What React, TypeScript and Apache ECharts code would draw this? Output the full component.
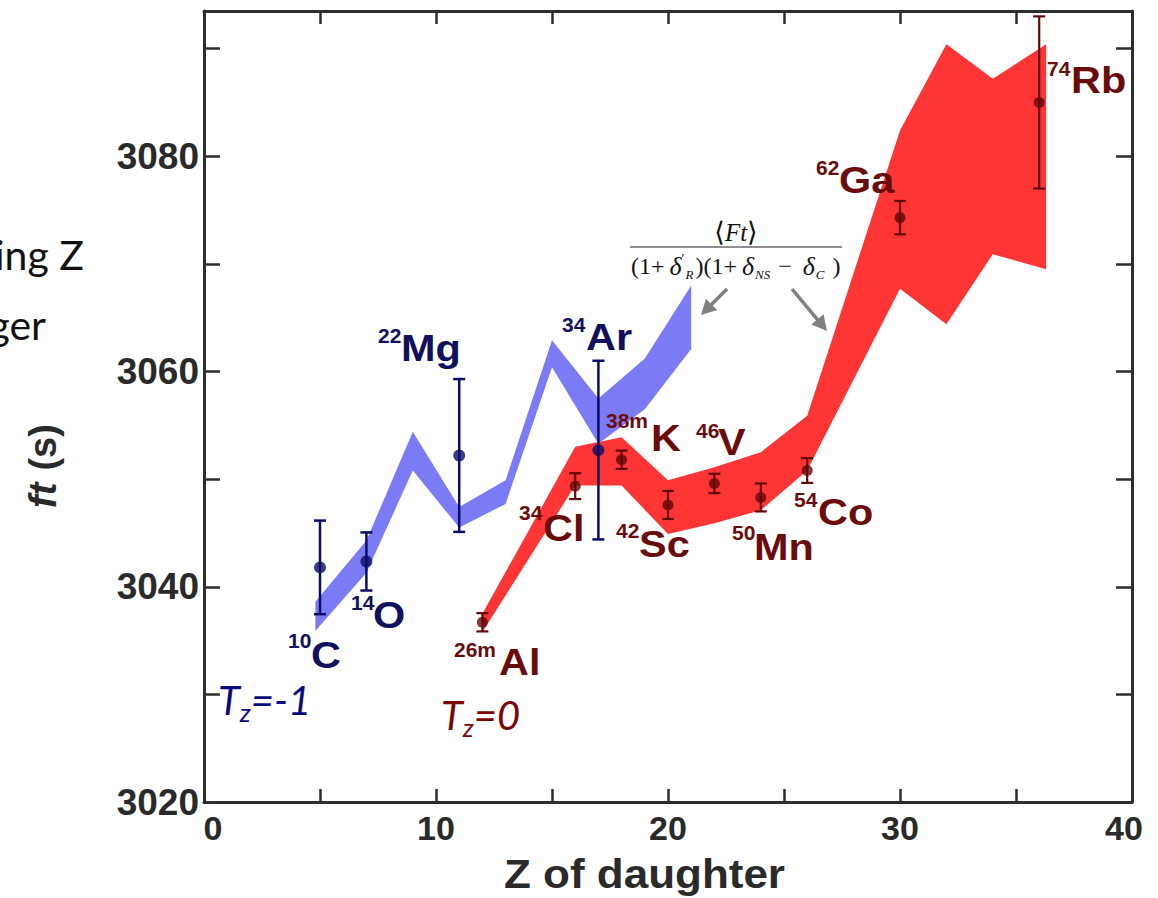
import React, { useEffect, useRef } from 'react';
import * as echarts from 'echarts';

// ---------- data ----------
// T_z = -1 measured ft values
const tzm1Z = [5, 7, 11, 17];
const tzm1Ft = [3041.8, 3042.35, 3052.2, 3052.7];
const tzm1Err = [4.35, 2.7, 7.1, 8.3];

// T_z = 0 measured ft values
const tz0Z = [12, 16, 18, 20, 22, 24, 26, 30, 36];
const tz0Ft = [3036.7, 3049.35, 3051.8, 3047.6, 3049.6, 3048.3, 3050.8, 3074.3, 3085.0];
const tz0Err = [0.85, 1.2, 0.85, 1.3, 0.9, 1.3, 1.15, 1.55, 8.0];

// theory bands  <Ft>/((1+dR')(1+dNS-dC))
const bandBlueZ = [4.8, 7, 9, 11, 13, 15, 17, 19, 21];
const bandBlueUpper = [3038.6, 3044.3, 3054.4, 3047.4, 3049.9, 3062.9, 3057.5, 3061.2, 3068.0];
const bandBlueLower = [3035.9, 3041.3, 3050.8, 3045.5, 3047.7, 3060.4, 3053.3, 3056.5, 3062.1];

const bandRedZ = [12, 16, 18, 20, 22, 24, 26, 30, 32, 34, 36.3];
const bandRedUpper = [3037.5, 3053.0, 3053.9, 3049.9, 3051.1, 3052.5, 3055.9, 3082.4, 3090.4, 3087.2, 3090.4];
const bandRedLower = [3035.8, 3049.4, 3049.4, 3044.9, 3045.9, 3047.1, 3050.8, 3067.7, 3064.4, 3070.9, 3069.5];

// axes
const xTickLabels = [0, 10, 20, 30, 40];
const yTickLabels = [3020, 3040, 3060, 3080];

// nuclide labels
const nuclideMass = ['10', '14', '22', '34', '26m', '34', '38m', '42', '46', '50', '54', '62', '74'];
const nuclideSym = ['C', 'O', 'Mg', 'Ar', 'Al', 'Cl', 'K', 'Sc', 'V', 'Mn', 'Co', 'Ga', 'Rb'];
const nuclideGroup = ['b', 'b', 'b', 'b', 'r', 'r', 'r', 'r', 'r', 'r', 'r', 'r', 'r'];
// layout (pixels): [supLeft, supCenterY, symLeft, symCenterY]
const labelLayout = [
  [288, 641, 311, 655],
  [351, 603, 373, 615],
  [378, 336, 401, 348],
  [562, 325, 586, 337],
  [454, 650, 499, 662],
  [519, 513, 543, 528],
  [606, 421, 651, 438],
  [616, 531, 639, 544],
  [696, 431, 718, 442],
  [732, 533, 754, 547],
  [794, 500, 818, 512],
  [816, 168, 839, 180],
  [1047, 69, 1071, 80],
];

const SANS = "'Liberation Sans', Arial, Helvetica, sans-serif";
const SERIF = "'Liberation Serif', 'DejaVu Serif', 'Times New Roman', serif";
const HUMAN = "Lato, 'Open Sans', sans-serif";
const AXIS = '#2e2e2e';
const BLUE_BAND = '#7b7bf5';
const RED_BAND = '#fe3535';
const BLUE_DARK = '#0c0c66';
const RED_DARK = '#620808';
const BLUE_TXT = '#10105e';
const RED_TXT = '#6a0c0c';

function bandSeries(name: string, zs: number[], up: number[], lo: number[], color: string) {
  return {
    type: 'custom',
    name,
    xAxisIndex: 0,
    yAxisIndex: 0,
    z: 1,
    data: [[zs[0], up[0]]],
    renderItem: (_p: any, api: any) => {
      const pts: number[][] = [];
      for (let i = 0; i < zs.length; i++) pts.push(api.coord([zs[i], up[i]]));
      for (let i = zs.length - 1; i >= 0; i--) pts.push(api.coord([zs[i], lo[i]]));
      return { type: 'polygon', shape: { points: pts }, style: { fill: color, stroke: null } };
    },
  };
}

function errSeries(name: string, zs: number[], v: number[], e: number[], color: string, lw: number) {
  return {
    type: 'custom',
    name,
    z: 3,
    data: zs.map((z, i) => [z, v[i] - e[i], v[i] + e[i]]),
    encode: { x: 0, y: [1, 2] },
    renderItem: (_p: any, api: any) => {
      const x = api.value(0);
      const a = api.coord([x, api.value(1)]);
      const b = api.coord([x, api.value(2)]);
      const w = 6;
      const st = { stroke: color, lineWidth: lw };
      return {
        type: 'group',
        children: [
          { type: 'line', shape: { x1: a[0], y1: a[1], x2: b[0], y2: b[1] }, style: st },
          { type: 'line', shape: { x1: a[0] - w, y1: a[1], x2: a[0] + w, y2: a[1] }, style: st },
          { type: 'line', shape: { x1: b[0] - w, y1: b[1], x2: b[0] + w, y2: b[1] }, style: st },
        ],
      };
    },
  };
}

function arrow(x1: number, y1: number, x2: number, y2: number, color: string) {
  const dx = x2 - x1, dy = y2 - y1;
  const L = Math.sqrt(dx * dx + dy * dy);
  const ux = dx / L, uy = dy / L;
  const hl = 15, hw = 8;
  const bx = x2 - ux * hl, by = y2 - uy * hl;
  return [
    { type: 'line', z: 20, shape: { x1, y1, x2: bx + ux * 2, y2: by + uy * 2 }, style: { stroke: color, lineWidth: 3.5 } },
    {
      type: 'polygon', z: 20,
      shape: { points: [[x2, y2], [bx - uy * hw, by + ux * hw], [bx + uy * hw, by - ux * hw]] },
      style: { fill: color },
    },
  ];
}

function buildOption() {
  const graphics: any[] = [];

  // left slide-text fragments
  graphics.push({ type: 'text', z: 20, x: 84, y: 254, style: { text: 'ing Z', font: `41px ${HUMAN}`, fill: '#111', align: 'right', verticalAlign: 'middle' } });
  graphics.push({ type: 'text', z: 20, x: 46, y: 324, style: { text: 'ger', font: `41px ${HUMAN}`, fill: '#111', align: 'right', verticalAlign: 'middle' } });

  // nuclide labels
  nuclideSym.forEach((s, i) => {
    const [sx, sy, ex, ey] = labelLayout[i];
    const c = nuclideGroup[i] === 'b' ? BLUE_TXT : RED_TXT;
    graphics.push({ type: 'text', z: 20, x: sx, y: sy, scaleX: 1.05, style: { text: nuclideMass[i], font: `bold 20px ${SANS}`, fill: c, align: 'left', verticalAlign: 'middle' } });
    graphics.push({ type: 'text', z: 20, x: ex, y: ey, scaleX: 1.12, style: { text: s, font: `bold 37px ${SANS}`, fill: c, align: 'left', verticalAlign: 'middle' } });
  });

  // T_z annotations (one rich text each)
  const tz = (x: number, y: number, rest: string, color: string) => ({
    type: 'text', z: 20, x, y,
    style: {
      text: `{t|T}{z|z}{r|${rest}}`, align: 'left', verticalAlign: 'middle',
      rich: {
        t: { font: `italic 40px ${HUMAN}`, fill: color, lineHeight: 50, verticalAlign: 'middle' },
        z: { font: `italic 26px ${HUMAN}`, fill: color, lineHeight: 50, verticalAlign: 'bottom' },
        r: { font: `italic 40px ${HUMAN}`, fill: color, lineHeight: 50, verticalAlign: 'middle' },
      },
    },
  });
  graphics.push(tz(218, 700, '=-1', '#0a0a80'));
  graphics.push(tz(441, 715, '=0', '#7a0606'));

  // formula box
  graphics.push({ type: 'rect', z: 15, shape: { x: 622, y: 199, width: 221, height: 84 }, style: { fill: '#ffffff' } });
  graphics.push({
    type: 'text', z: 20, x: 736, y: 232,
    style: {
      text: '{b|⟨}{i|Ft}{b|⟩}', align: 'center', verticalAlign: 'middle',
      rich: {
        b: { font: `27px ${SERIF}`, fill: '#111' },
        i: { font: `italic 25px ${SERIF}`, fill: '#111' },
      },
    },
  });
  graphics.push({ type: 'line', z: 20, shape: { x1: 630, y1: 247, x2: 842, y2: 247 }, style: { stroke: '#222', lineWidth: 1.2 } });
  graphics.push({
    type: 'text', z: 20, x: 631, y: 266,
    style: {
      text: '{n|(1+}{i|δ}{p|′}{s|R}{n|)(1+}{i|δ}{s|NS}{n| − }{i|δ}{s|C}{n| )}',
      align: 'left', verticalAlign: 'middle',
      rich: {
        n: { font: `24px ${SERIF}`, fill: '#111', lineHeight: 30, verticalAlign: 'middle' },
        i: { font: `italic 26px ${SERIF}`, fill: '#111', lineHeight: 30, verticalAlign: 'middle', padding: [0, 0, 0, 5] },
        p: { font: `13px ${SERIF}`, fill: '#111', lineHeight: 30, verticalAlign: 'top' },
        s: { font: `italic 13px ${SERIF}`, fill: '#111', lineHeight: 30, verticalAlign: 'bottom', padding: [0, 2, 0, 1] },
      },
    },
  });

  // arrows
  graphics.push(...arrow(727, 289, 701, 315, '#808080'));
  graphics.push(...arrow(792, 289, 827, 331, '#808080'));

  // axis titles
  graphics.push({
    type: 'text', z: 20, x: 504, y: 874, scaleX: 1.1,
    style: { text: 'Z of daughter', font: `bold 40px ${SANS}`, fill: '#2a2a2a', align: 'left', verticalAlign: 'middle' },
  });
  graphics.push({
    type: 'text', z: 20, x: 43, y: 466, rotation: Math.PI / 2,
    style: {
      text: '{i|ft}{g| }{n|(s)}', align: 'center', verticalAlign: 'middle',
      rich: {
        i: { font: `italic bold 38px ${SANS}`, fill: '#2a2a2a' },
        g: { font: `bold 38px ${SANS}`, fill: '#2a2a2a', width: 12 },
        n: { font: `bold 38px ${SANS}`, fill: '#2a2a2a' },
      },
    },
  });

  const axisCommon = {
    type: 'value',
    splitLine: { show: false },
    axisLine: { show: true, onZero: false, lineStyle: { color: AXIS, width: 3 } },
  };
  const xLab = { fontSize: 34, fontWeight: 'bold', fontFamily: SANS, color: '#2a2a2a' };

  return {
    animation: false,
    backgroundColor: '#ffffff',
    grid: { left: 204, right: 26, top: 11, bottom: 96, containLabel: false },
    xAxis: [
      {
        ...axisCommon, position: 'bottom', min: 0, max: 40, interval: 5,
        axisTick: { show: true, inside: true, length: 13, lineStyle: { color: AXIS, width: 2.5 } },
        axisLabel: {
          show: true, margin: 9, ...xLab,
          formatter: (v: number) => {
            if (!xTickLabels.includes(v)) return '';
            if (v === 0) return '{l|0}';
            if (v === 40) return '{r|40}';
            return String(v);
          },
          rich: {
            l: { ...xLab, padding: [0, 0, 0, 18] },
            r: { ...xLab, padding: [0, 16, 0, 0] },
          },
        },
      },
      {
        ...axisCommon, position: 'top', min: 0, max: 40, interval: 5,
        axisTick: { show: true, inside: true, length: 13, lineStyle: { color: AXIS, width: 2.5 } },
        axisLabel: { show: false },
      },
    ],
    yAxis: [
      {
        ...axisCommon, position: 'left', min: 3020, max: 3093.5, interval: 10,
        axisTick: { show: true, inside: true, length: 16, lineStyle: { color: AXIS, width: 2.5 } },
        axisLabel: {
          show: true, margin: 5, color: '#2a2a2a', fontSize: 37, fontWeight: 'bold', fontFamily: SANS,
          padding: [0, 0, 8, 0],
          formatter: (v: number) => (yTickLabels.includes(v) ? String(v) : ''),
        },
      },
      {
        ...axisCommon, position: 'right', min: 3020, max: 3093.5, interval: 10,
        axisTick: { show: true, inside: true, length: 16, lineStyle: { color: AXIS, width: 2.5 } },
        axisLabel: { show: false },
      },
    ],
    series: [
      bandSeries('Tz=0 band', bandRedZ, bandRedUpper, bandRedLower, RED_BAND),
      bandSeries('Tz=-1 band', bandBlueZ, bandBlueUpper, bandBlueLower, BLUE_BAND),
      errSeries('Tz=-1 err', tzm1Z, tzm1Ft, tzm1Err, BLUE_DARK, 2.5),
      errSeries('Tz=0 err', tz0Z, tz0Ft, tz0Err, RED_DARK, 2.2),
      {
        type: 'scatter', name: 'Tz=-1', z: 4, symbol: 'circle', symbolSize: 12,
        itemStyle: { color: BLUE_DARK },
        data: tzm1Z.map((z, i) => [z, tzm1Ft[i]]),
      },
      {
        type: 'scatter', name: 'Tz=0', z: 4, symbol: 'circle', symbolSize: 11,
        itemStyle: { color: RED_DARK },
        data: tz0Z.map((z, i) => [z, tz0Ft[i]]),
      },
    ],
    graphic: graphics,
  };
}

export default function App() {
  const ref = useRef<HTMLDivElement>(null);
  useEffect(() => {
    document.body.style.margin = '0';
    const chart = echarts.init(ref.current as HTMLDivElement, null, { renderer: 'svg' });
    chart.setOption(buildOption() as any);
    return () => chart.dispose();
  }, []);
  return (
    <div
      ref={ref}
      style={{ position: 'fixed', left: 0, top: 0, width: 1158, height: 898, background: '#fff' }}
    />
  );
}
